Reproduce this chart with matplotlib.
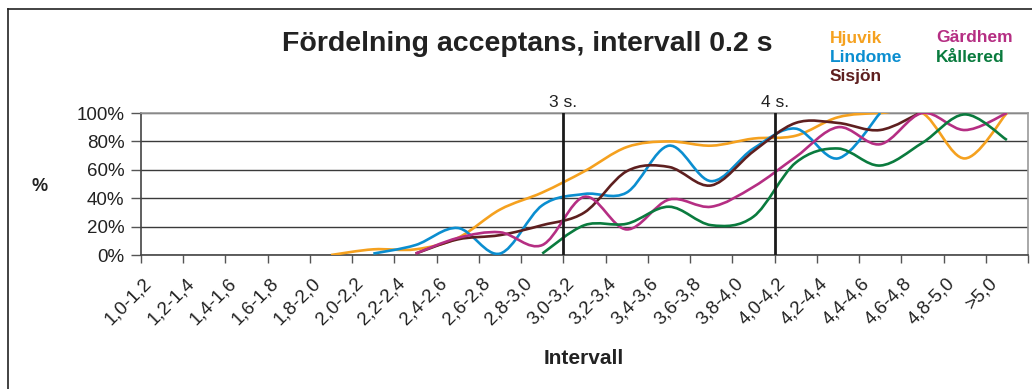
import matplotlib.pyplot as plt
import numpy as np
from matplotlib.path import Path
from matplotlib.patches import PathPatch
from matplotlib.lines import Line2D
from matplotlib.ticker import FixedLocator, PercentFormatter
from matplotlib.transforms import ScaledTranslation

plt.rcParams['font.family'] = ['Liberation Sans', 'DejaVu Sans']

nan = np.nan
intervall = ['1,0-1,2', '1,2-1,4', '1,4-1,6', '1,6-1,8', '1,8-2,0', '2,0-2,2',
             '2,2-2,4', '2,4-2,6', '2,6-2,8', '2,8-3,0', '3,0-3,2', '3,2-3,4',
             '3,4-3,6', '3,6-3,8', '3,8-4,0', '4,0-4,2', '4,2-4,4', '4,4-4,6',
             '4,6-4,8', '4,8-5,0', '>5,0']

hjuvik = [nan, nan, nan, nan, 0, 4, 4, 12, 32, 44, 59, 76, 80, 77, 82, 84, 97, 100, 100, 68, 100]
lindome = [nan, nan, nan, nan, nan, 1, 7, 19, 1, 35, 43, 44, 77, 52, 75, 89, 68, 100, nan, nan, nan]
sisjon = [nan, nan, nan, nan, nan, nan, 1, 11, 14, 21, 30, 59, 62, 49, 73, 93, 93, 88, 101, nan, nan]
gardhem = [nan, nan, nan, nan, nan, nan, 1, 12, 16, 7, 41, 18, 39, 34, 48, 69, 90, 78, 100, 88, 100]
kallered = [nan, nan, nan, nan, nan, nan, nan, nan, nan, 1, 21, 22, 34, 21, 27, 65, 75, 63, 79, 99, 81]

serier = [('Hjuvik', hjuvik, '#F5A11F'),
          ('Lindome', lindome, '#0B8ED0'),
          ('Sisjön', sisjon, '#5E1F1F'),
          ('Gärdhem', gardhem, '#B52E83'),
          ('Kållered', kallered, '#0A7B3E')]


def utjamnad(x, y):
    # mjuk kurva genom punkterna (Catmull-Rom som Bezier)
    p = np.column_stack([x, y])
    n = len(p)
    verts = [p[0]]
    codes = [Path.MOVETO]
    for i in range(n - 1):
        p0 = p[i - 1] if i > 0 else p[i]
        p3 = p[i + 2] if i + 2 < n else p[i + 1]
        c1 = p[i] + (p[i + 1] - p0) / 6
        c2 = p[i + 1] - (p3 - p[i]) / 6
        verts += [c1, c2, p[i + 1]]
        codes += [Path.CURVE4] * 3
    return Path(verts, codes)


fig = plt.figure(figsize=(10.32, 3.89), dpi=100)
ax = fig.add_axes([141 / 1032, 1 - 255 / 389, 887 / 1032, 142 / 389])

x = np.arange(len(intervall))
for namn, v, farg in serier:
    v = np.array(v, dtype=float)
    ok = ~np.isnan(v)
    ax.add_patch(PathPatch(utjamnad(x[ok], v[ok]), fill=False, edgecolor=farg,
                           lw=1.9, capstyle='butt', zorder=3))

ax.set_xlim(-0.5, len(intervall) - 0.5)
ax.set_ylim(0, 100)
ax.yaxis.set_major_locator(FixedLocator([0, 20, 40, 60, 80, 100]))
ax.yaxis.set_major_formatter(PercentFormatter(decimals=0))
ax.grid(axis='y', color='#3a3a3a', lw=1.0)
ax.set_axisbelow(True)

ax.xaxis.set_major_locator(FixedLocator(np.arange(-0.5, len(intervall), 1.0)))
ax.xaxis.set_major_formatter(plt.NullFormatter())
ax.xaxis.set_minor_locator(FixedLocator(x))
ax.set_xticklabels(intervall, minor=True, rotation=45, ha='right', va='top',
                   rotation_mode='anchor', fontsize=13.5, color='#222222')
ax.tick_params(axis='x', which='minor', length=0, pad=14)
ax.tick_params(axis='x', which='major', length=6, width=1, color='#555555')
ax.tick_params(axis='y', length=7, width=1, color='#555555', labelsize=13.5,
               labelcolor='#222222', pad=5)
skift = ScaledTranslation(-0.19, 0, fig.dpi_scale_trans)
for lbl in ax.get_xticklabels(minor=True):
    lbl.set_transform(lbl.get_transform() + skift)

for s in ['left', 'bottom']:
    ax.spines[s].set_color('#444444')
    ax.spines[s].set_linewidth(1.2)
for s in ['top', 'right']:
    ax.spines[s].set_color('#999999')
    ax.spines[s].set_linewidth(1.2)

# gränser vid 3 s och 4 s
for xv, txt in [(9.5, '3 s.'), (14.5, '4 s.')]:
    ax.axvline(xv, color='#1a1a1a', lw=2, zorder=4)
    ax.text(xv, 102, txt, ha='center', va='bottom', fontsize=12.5, color='#222222')

fig.text(527 / 1032, 1 - 44 / 389, 'Fördelning acceptans, intervall 0.2 s', ha='center',
         va='center', fontsize=20.5, fontweight='bold', color='#222222')
fig.text(40 / 1032, 1 - 186 / 389, '%', ha='center', va='center', fontsize=13,
         fontweight='bold', color='#222222')
fig.text(584 / 1032, 1 - 358 / 389, 'Intervall', ha='center', va='center', fontsize=15,
         fontweight='bold', color='#222222')

# förklaring
pos = {'Hjuvik': (830, 38), 'Lindome': (830, 57), 'Sisjön': (830, 76),
       'Gärdhem': (936, 38), 'Kållered': (936, 57)}
for namn, v, farg in serier:
    px, py = pos[namn]
    fig.text(px / 1032, 1 - py / 389, namn, ha='left', va='center', fontsize=12.5,
             fontweight='bold', color=farg)

# ram runt diagrammet
fig.add_artist(Line2D([8 / 1032, 8 / 1032], [0, 1 - 9 / 389], color='#222222', lw=1.2))
fig.add_artist(Line2D([8 / 1032, 1], [1 - 9 / 389, 1 - 9 / 389], color='#222222', lw=1.2))

fig.savefig('out.png', dpi=100)
